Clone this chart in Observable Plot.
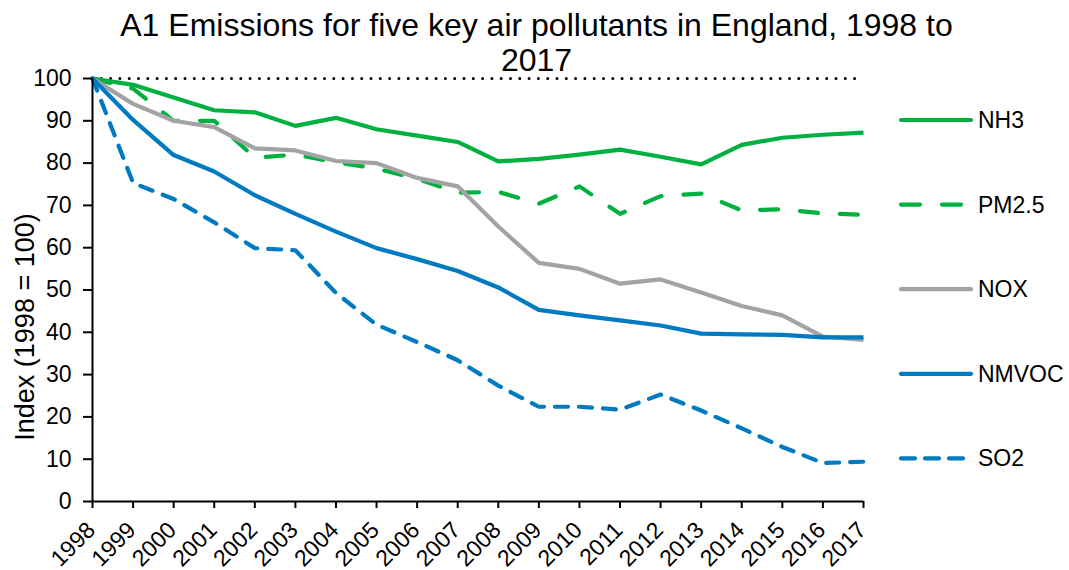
<!DOCTYPE html>
<html><head><meta charset="utf-8">
<script src="https://cdn.jsdelivr.net/npm/d3@7"></script>
<script src="https://cdn.jsdelivr.net/npm/@observablehq/plot@0.6"></script>
<style>
body{margin:0;background:#fff;font-family:"Liberation Sans",Arial,sans-serif}
#wrap{position:relative;width:1069px;height:570px;overflow:hidden}
#title{position:absolute;left:2px;top:8px;width:1069px;text-align:center;font-size:32px;line-height:35px;color:#000;white-space:nowrap}
#legend{position:absolute;left:0;top:0}
#chart svg{overflow:visible}
</style></head><body>
<div id="wrap"><div id="chart"></div><div id="title"></div><svg id="legend" width="1069" height="570"></svg></div>
<script>
const titleLines = ["A1 Emissions for five key air pollutants in England, 1998 to", "2017"];
const yLabel = "Index (1998 = 100)";
const years = [1998,1999,2000,2001,2002,2003,2004,2005,2006,2007,2008,2009,2010,2011,2012,2013,2014,2015,2016,2017];
const yTicks = [0,10,20,30,40,50,60,70,80,90,100];
const nh3   = [100,98.5,95.5,92.5,92.0,88.8,90.7,88.0,86.5,85.0,80.4,81.0,82.0,83.2,81.5,79.7,84.3,86.0,86.7,87.2];
const pm25  = [100,97.6,90.0,90.0,81.3,82.0,80.2,78.7,76.3,73.0,73.2,70.4,74.5,68.0,72.2,72.8,68.8,69.1,68.1,67.8];
const nox   = [100,94.0,90.0,88.5,83.5,83.0,80.5,80.0,76.5,74.5,65.0,56.4,55.0,51.5,52.5,49.4,46.2,44.0,39.0,38.2];
const nmvoc = [100,90.2,81.9,78.0,72.4,68.0,63.8,59.9,57.3,54.5,50.6,45.3,44.0,42.8,41.6,39.7,39.5,39.4,38.8,38.8];
const so2   = [100,75.3,71.5,66.0,59.9,59.4,49.3,41.8,37.7,33.4,27.4,22.4,22.4,21.7,25.3,21.5,17.3,12.9,9.1,9.4];
const baseline = [100];

const series = [
  {name:"NH3",   values:nh3,   color:"#00b140", dash:null},
  {name:"PM2.5", values:pm25,  color:"#00b140", dash:"18,22"},
  {name:"NOX",   values:nox,   color:"#a3a3a3", dash:null},
  {name:"NMVOC", values:nmvoc, color:"#007ac0", dash:null},
  {name:"SO2",   values:so2,   color:"#007ac0", dash:"13,11"}
];

document.getElementById("title").innerHTML = titleLines.join("<br>");

const W = 1069, H = 570, ML = 92, MR = 206, MT = 78, MB = 69;
const font = "'Liberation Sans', Arial, sans-serif";

const lineMarks = series.map(s => Plot.line(years.map((yr,i)=>({year:yr, value:s.values[i]})), {
  x:"year", y:"value", stroke:s.color, strokeWidth:4.2,
  strokeDasharray: s.dash || undefined, strokeLinecap: s.dash ? "round" : "butt", strokeLinejoin:"round"
}));

const chart = Plot.plot({
  width:W, height:H, marginLeft:ML, marginRight:MR, marginTop:MT, marginBottom:MB,
  style:{fontFamily:font, fontSize:"23px", color:"#000", background:"transparent"},
  x:{type:"linear", domain:[years[0], years[years.length-1]]},
  y:{domain:[0,100]},
  marks:[
    Plot.ruleY(baseline, {stroke:"#000", strokeWidth:3, strokeDasharray:"0,9.3", strokeLinecap:"round"}),
    ...lineMarks,
    Plot.ruleX([years[0]], {stroke:"#000", strokeWidth:2}),
    Plot.ruleY([0], {stroke:"#000", strokeWidth:2}),
    Plot.axisY({ticks:yTicks, tickSize:9, tickPadding:12, label:null, fontSize:23, stroke:"#000", strokeWidth:2}),
    Plot.axisX({ticks:years, tickFormat:()=>"", tickSize:7, label:null, stroke:"#000", strokeWidth:2}),
    Plot.text(years, {x:d=>d, frameAnchor:"bottom", dx:4, dy:30, rotate:-45, textAnchor:"end", lineAnchor:"bottom", fontSize:23, text:d=>String(d), fill:"#000"}),
    Plot.text([yLabel], {frameAnchor:"left", dx:-59, dy:37, rotate:-90, textAnchor:"middle", lineAnchor:"bottom", text:d=>d, fontSize:27, fill:"#000"})
  ]
});
document.getElementById("chart").appendChild(chart);

// legend
const lg = d3.select("#legend");
series.forEach((s,i)=>{
  const cy = 120 + i*84.6;
  lg.append("line").attr("x1",901).attr("x2",971).attr("y1",cy).attr("y2",cy)
    .attr("stroke",s.color).attr("stroke-width",4.2).attr("stroke-linecap","round")
    .attr("stroke-dasharray", s.dash ? (s.name==="PM2.5" ? "19,22" : "14,10") : null);
  lg.append("text").attr("x",978).attr("y",cy).attr("dy","0.35em")
    .attr("font-family",font).attr("font-size",23).attr("fill","#000").text(s.name);
});
</script>
</body></html>
